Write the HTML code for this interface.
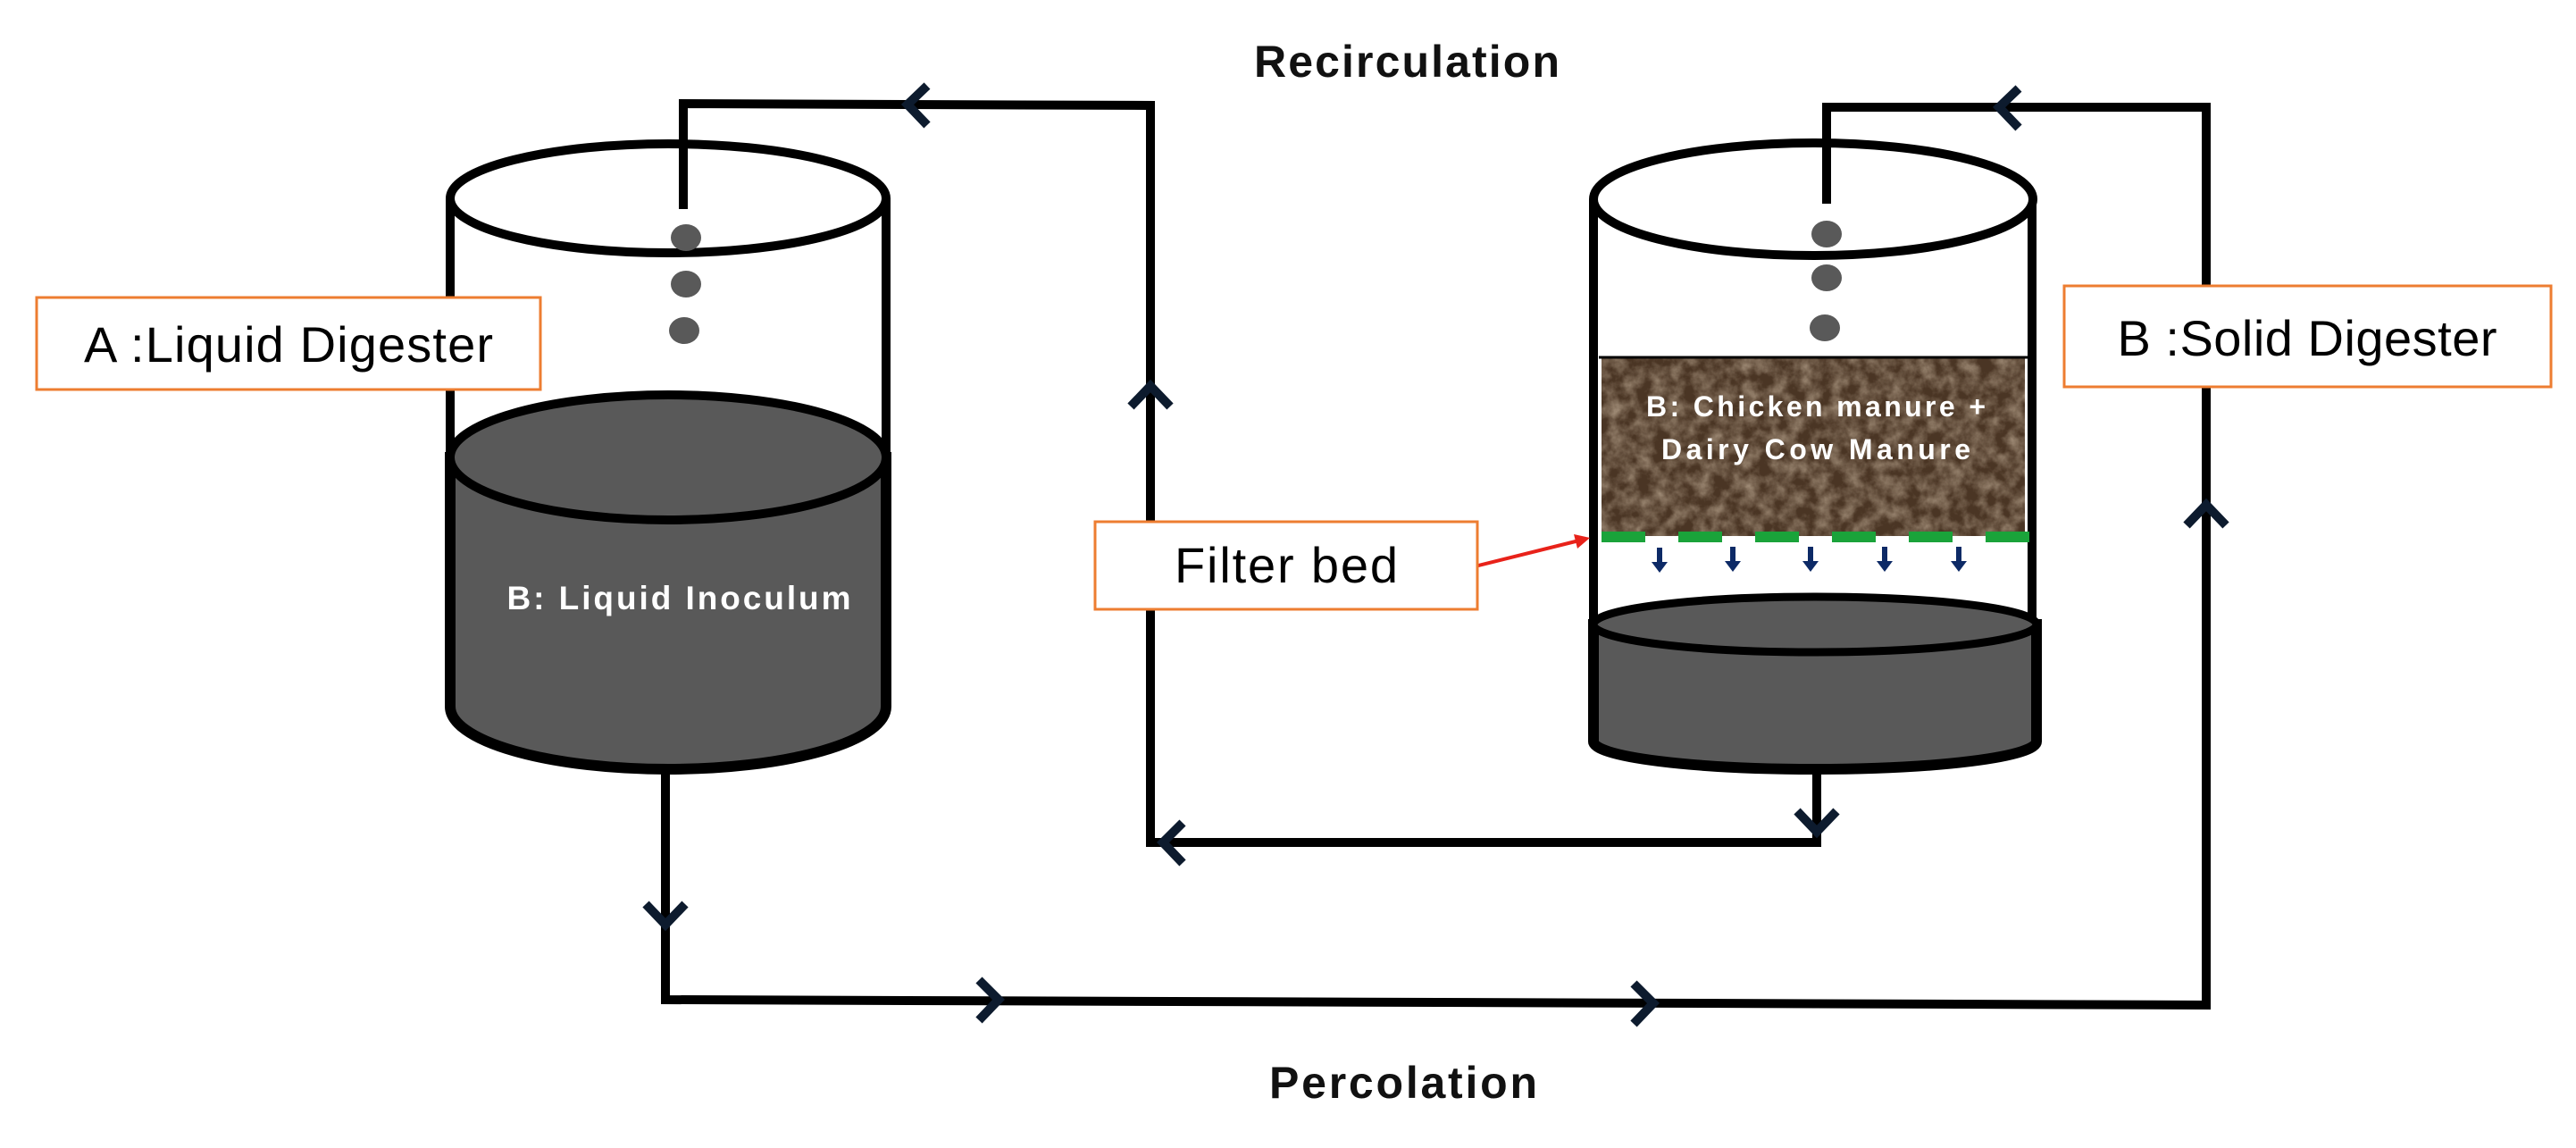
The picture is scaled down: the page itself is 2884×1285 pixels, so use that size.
<!DOCTYPE html>
<html><head><meta charset="utf-8"><style>
html,body{margin:0;padding:0;background:#fff;}
svg{display:block;}
text{font-family:"Liberation Sans",sans-serif;}
</style></head><body>
<svg width="2884" height="1285" viewBox="0 0 2884 1285" xmlns="http://www.w3.org/2000/svg">
<defs>
<filter id="tex" x="0" y="0" width="100%" height="100%">
<feTurbulence type="fractalNoise" baseFrequency="0.06" numOctaves="4" seed="3"/>
<feColorMatrix type="matrix" values="0 0 0 0 0.36  0 0 0 0 0.27  0 0 0 0 0.19  0 0 0 1.6 -0.5"/>
</filter>
</defs>
<rect width="2884" height="1285" fill="#fff"/>

<text x="1575" y="86" font-size="50" font-weight="bold" text-anchor="middle" fill="#111" textLength="342">Recirculation</text>
<text x="1571" y="1229" font-size="50" font-weight="bold" text-anchor="middle" fill="#111" textLength="300">Percolation</text>

<g fill="none" stroke="#000" stroke-width="10">
<polyline points="765,234 765,116 1288,118 1288,943 2034,943 2034,861"/>
<polyline points="745,861 745,1119 2470,1125 2470,120 2045,120 2045,228"/>
</g>

<!-- Left cylinder -->
<path d="M504,222 L504,512 L992,512 L992,222" fill="none" stroke="#000" stroke-width="10"/>
<path d="M504,512 L504,791 A244,70 0 0 0 992,791 L992,512 Z" fill="#595959" stroke="#000" stroke-width="12"/>
<ellipse cx="748" cy="512" rx="244" ry="70" fill="#595959" stroke="#000" stroke-width="10"/>
<ellipse cx="748" cy="222" rx="244" ry="61" fill="#fff" stroke="#000" stroke-width="10"/>
<line x1="765" y1="116" x2="765" y2="234" stroke="#000" stroke-width="10"/>
<g fill="#595959"><ellipse cx="768" cy="266" rx="17" ry="15"/><ellipse cx="768" cy="318" rx="17" ry="15"/><ellipse cx="766" cy="370" rx="17" ry="15"/></g>
<text x="760" y="682" font-size="37" font-weight="bold" fill="#fff" text-anchor="middle" textLength="385">B: Liquid Inoculum</text>

<!-- Right cylinder -->
<path d="M1784,223 L1784,830 M2275,223 L2275,830" stroke="#000" stroke-width="10" fill="none"/>
<path d="M1784,699 L1784,830 A248,31 0 0 0 2280,830 L2280,699 Z" fill="#595959" stroke="#000" stroke-width="12"/>
<ellipse cx="2032" cy="699" rx="248" ry="31" fill="#595959" stroke="#000" stroke-width="9"/>
<rect x="1793" y="400" width="474" height="200" fill="#4a3524"/>
<rect x="1793" y="400" width="474" height="200" filter="url(#tex)"/>
<line x1="1790" y1="400" x2="2270" y2="400" stroke="#000" stroke-width="3"/>
<ellipse cx="2030" cy="223" rx="246" ry="63" fill="#fff" stroke="#000" stroke-width="10"/>
<line x1="2045" y1="120" x2="2045" y2="228" stroke="#000" stroke-width="10"/>
<g fill="#595959"><ellipse cx="2045" cy="262" rx="17" ry="15"/><ellipse cx="2045" cy="311" rx="17" ry="15"/><ellipse cx="2043" cy="367" rx="17" ry="15"/></g>
<text x="2033" y="466" font-size="32" font-weight="bold" fill="#fff" text-anchor="middle" textLength="380">B: Chicken manure +</text>
<text x="2033" y="514" font-size="32" font-weight="bold" fill="#fff" text-anchor="middle" textLength="346">Dairy Cow Manure</text>
<line x1="1793" y1="601" x2="2272" y2="601" stroke="#1aa33a" stroke-width="12" stroke-dasharray="49 37"/>
<g fill="#0d2a66">
<path d="M1855,613 h6 v16 h6 l-9,12 l-9,-12 h6z"/>
<path d="M1937,612 h6 v16 h6 l-9,12 l-9,-12 h6z"/>
<path d="M2024,612 h6 v16 h6 l-9,12 l-9,-12 h6z"/>
<path d="M2107,612 h6 v16 h6 l-9,12 l-9,-12 h6z"/>
<path d="M2190,612 h6 v16 h6 l-9,12 l-9,-12 h6z"/>
</g>

<line x1="1635" y1="638" x2="1768" y2="605" stroke="#e8221a" stroke-width="4"/>
<path d="M1780,602 L1762,598 L1766,614 Z" fill="#e8221a"/>

<!-- Chevron arrows -->
<g fill="none" stroke="#0d1b2e" stroke-width="10" stroke-linejoin="miter">
<polyline points="1038,96 1016,117 1038,140"/>
<polyline points="2260,99 2238,120 2260,143"/>
<polyline points="1266,455 1288,432 1310,455"/>
<polyline points="2448,588 2470,565 2492,588"/>
<polyline points="723,1012 745,1035 767,1012"/>
<polyline points="1096,1097 1118,1119 1096,1142"/>
<polyline points="1829,1101 1851,1123 1829,1146"/>
<polyline points="1324,921 1302,943 1324,966"/>
<polyline points="2012,908 2034,931 2056,908"/>
</g>

<rect x="41" y="333" width="564" height="103" fill="#fff" stroke="#ed7d31" stroke-width="3"/>
<text x="323" y="405" font-size="56" text-anchor="middle" fill="#000" textLength="458">A :Liquid Digester</text>
<rect x="1226" y="584" width="428" height="98" fill="#fff" stroke="#ed7d31" stroke-width="3"/>
<text x="1440" y="652" font-size="56" text-anchor="middle" fill="#000" textLength="250">Filter bed</text>
<rect x="2311" y="320" width="545" height="113" fill="#fff" stroke="#ed7d31" stroke-width="3"/>
<text x="2583" y="398" font-size="56" text-anchor="middle" fill="#000" textLength="425">B :Solid Digester</text>
</svg>
</body></html>
